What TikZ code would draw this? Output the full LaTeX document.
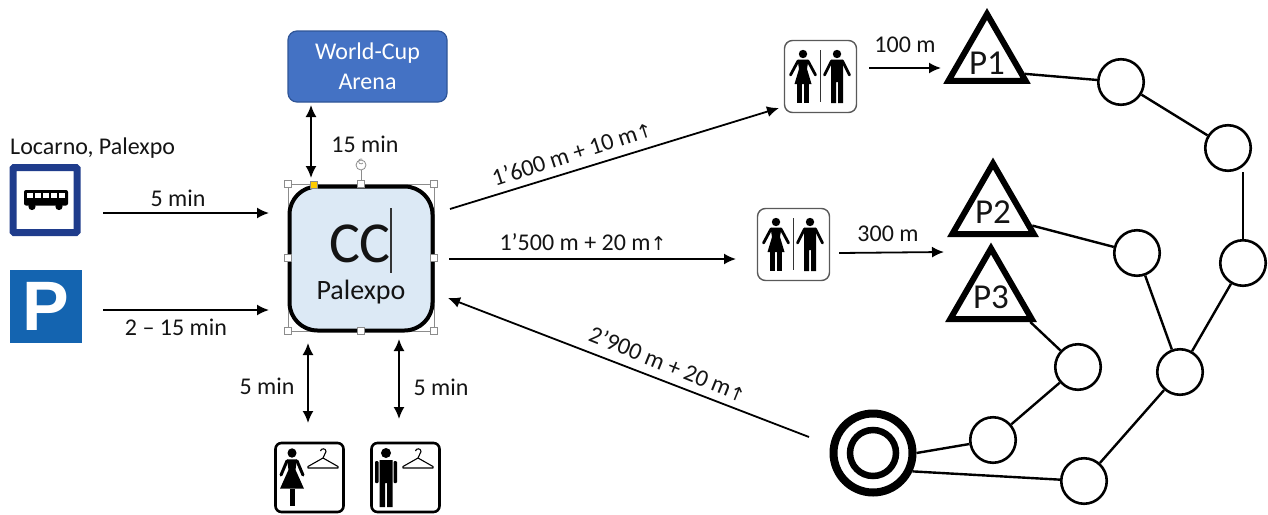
\documentclass[tikz,border=0pt]{standalone}
\usepackage{fontspec}
\setmainfont{Carlito}
\newfontfamily\arrowfont{DejaVu Sans}
\newfontfamily\signfont{Liberation Sans}[BoldFont={Liberation Sans Bold}]
\usetikzlibrary{arrows.meta,shapes.geometric}
\definecolor{txt}{HTML}{141414}
\definecolor{bsign}{HTML}{1F3C8C}
\definecolor{psign}{HTML}{1464B0}
\definecolor{arena}{HTML}{4472C4}
\definecolor{arenaedge}{HTML}{2F5597}
\definecolor{ccfill}{HTML}{DCE9F5}
\definecolor{handle}{HTML}{8C8C8C}
\tikzset{
  lab/.style={font=\fontsize{24}{28}\selectfont,text=txt,inner sep=0pt},
  conn/.style={line width=1.8pt,-{Latex[length=12pt,width=11pt]},black},
  dconn/.style={line width=1.8pt,{Latex[length=12pt,width=11pt]}-{Latex[length=12pt,width=11pt]},black},
  edge/.style={line width=2.4pt,black},
  stop/.style={circle,draw=black,line width=2.6pt,fill=white,minimum size=45.5pt,inner sep=0pt},
  tri/.style={regular polygon,regular polygon sides=3,draw=black,line width=6pt,fill=white,inner sep=0pt,font=\fontsize{35}{38}\selectfont,text=txt},
  wcbox/.style={draw=gray!70!black,line width=1.4pt,rounded corners=8pt,fill=white,minimum size=72pt,inner sep=0pt},
  clbox/.style={draw=black,line width=2.6pt,rounded corners=6pt,fill=white,minimum width=68pt,minimum height=69pt,inner sep=0pt},
  hnd/.style={draw=handle,line width=0.8pt,fill=white,minimum size=7.5pt,inner sep=0pt},
}
\newcommand{\upmark}{{\arrowfont\fontsize{19}{19}\selectfont↑}}
\newcommand{\trilabel}[2]{\smash{\makebox[0pt]{\raisebox{#1}{#2}}}}
\newcommand{\womanfig}[2]{\begin{scope}[shift={(#1,#2)}]
  \fill (0,0) circle (4.2);
  \fill (-5.5,5.5) -- (5.5,5.5) -- (4,15) -- (8.5,30) -- (-8.5,30) -- (-4,15) -- cycle;
  \draw[line width=2.8pt,line cap=round] (-5,7) -- (-12.5,21);
  \draw[line width=2.8pt,line cap=round] (5,7) -- (12.5,21);
  \fill (-6,30) rectangle (-1.4,49);
  \fill (1.4,30) rectangle (6,49);
\end{scope}}
\newcommand{\manfig}[2]{\begin{scope}[shift={(#1,#2)}]
  \fill (0,0) circle (4.2);
  \fill (-6,5.5) -- (6,5.5) -- (6,28) -- (6,49) -- (1,49) -- (1,28) -- (-1,28) -- (-1,49) -- (-6,49) -- cycle;
  \draw[line width=2.8pt,line cap=round] (-5.5,7) -- (-12.5,21);
  \draw[line width=2.8pt,line cap=round] (5.5,7) -- (12.5,21);
\end{scope}}
\newcommand{\hangerfig}[2]{\begin{scope}[shift={(#1,#2)},line width=1.1pt]
  \draw (-2.5,-8) .. controls (-2,-11) and (3,-11) .. (3,-7.5) .. controls (3,-4.5) and (0,-4) .. (0,-1);
  \draw[line join=round] (0,-1) -- (15,7.5) -- (15,9) -- (-15,9) -- (-15,7.5) -- cycle;
\end{scope}}
\begin{document}
\begin{tikzpicture}[x=1pt,y=-1pt]
\useasboundingbox (0,0) rectangle (1268,514);
% left column
\node[lab,anchor=west] (loc) at (10,148) {Locarno, Palexpo};
\node[draw=bsign,line width=7pt,fill=white,minimum width=64pt,minimum height=65pt,inner sep=0pt,rounded corners=1pt] (bus) at (45,200) {};
\begin{scope}
  \fill[rounded corners=2pt] (24,190) rectangle (68,205.5);
  \foreach \x in {26.5,34.5,42.5,50.5,58.5}{\fill[white] (\x,192.5) rectangle +(6,5.5);}
  \fill (32,206.5) circle (3.6);
  \fill (59,206.5) circle (3.6);
\end{scope}
\node[fill=psign,minimum width=72pt,minimum height=73pt,inner sep=0pt,text=white,font=\signfont\bfseries\fontsize{70}{70}\selectfont] (park) at (46,306) {P};
% World-Cup
\node[draw=arenaedge,line width=1.2pt,fill=arena,rounded corners=9pt,minimum width=159pt,minimum height=71pt,text=white,align=center,font=\fontsize{24}{30}\selectfont,inner sep=0pt] (wc) at (367.5,66.5) {World-Cup\\Arena};
% CC box
\draw[handle,line width=0.9pt] (288,184) rectangle (434,331);
\node[draw=black,line width=4pt,fill=ccfill,rounded corners=28pt,minimum width=143pt,minimum height=144pt,inner sep=0pt] (cc) at (361,258.5) {};
\node[inner sep=0pt,text=txt,font=\fontsize{58}{58}\selectfont] (cct) at (360,244) {CC};
\coordinate (bara) at (391,208);
\coordinate (barb) at (391,273);
\draw[line width=1.2pt,black!80] (bara) -- (barb);
\node[lab,font=\fontsize{28}{32}\selectfont] (pal) at (361,292) {Palexpo};
\node[circle,draw=handle,line width=0.8pt,fill=white,minimum size=10pt,inner sep=0pt] (rot) at (361,165) {};
\draw[handle,line width=0.7pt] (rot.south) -- (361,184);
\draw[handle,line width=0.7pt] (363,163) arc (40:300:2.5);
\foreach \p/\n in {288/184,361/184,434/184,288/258,434/258,288/331,361/331,434/331}{\node[hnd] at (\p,\n) {};}
\node[hnd,fill=orange!40!yellow] (yel) at (314,185) {};
% clothes icons
\node[clbox] (wa) at (309.5,477.5) {};
\node[clbox] (ma) at (405.5,477.5) {};
\begin{scope}[shift={(292,453)},yscale=1.05]
  \fill (0,0) circle (4.5);
  \fill (-5,6) -- (5,6) -- (3.5,16) -- (12,34) -- (-12,34) -- (-3.5,16) -- cycle;
  \draw[line width=3pt,line cap=round] (-5,7.5) -- (-11,21);
  \draw[line width=3pt,line cap=round] (5,7.5) -- (11,21);
  \fill (-2.5,34) rectangle (2.5,50);
\end{scope}
\begin{scope}[shift={(386,453)}]
  \fill (0,0) circle (5);
  \fill (-6.5,7) -- (6.5,7) -- (6.5,54) -- (1,54) -- (1,30) -- (-1,30) -- (-1,54) -- (-6.5,54) -- cycle;
  \fill[rounded corners=1pt] (-11,8) rectangle (-7.5,30);
  \fill[rounded corners=1pt] (7.5,8) rectangle (11,30);
\end{scope}
\hangerfig{323}{459}
\hangerfig{418}{459}
% restrooms
\node[wcbox] (wc1) at (820.5,76.5) {};
\womanfig{803}{54}
\manfig{837}{54}
\draw[line width=1pt,black!80] (820,50) -- (820,102);
\node[wcbox] (wc2) at (793.5,244.5) {};
\womanfig{776}{222}
\manfig{810}{222}
\draw[line width=1pt,black!80] (793,218) -- (793,270);
% stops
\node[stop] (c1) at (1121,82) {};
\node[stop] (c2) at (1228,148) {};
\node[stop] (c3) at (1243,263) {};
\node[stop] (c4) at (1137,253) {};
\node[stop] (c5) at (1180,372) {};
\node[stop] (c6) at (1078,367) {};
\node[stop] (c7) at (993,440) {};
\node[stop] (c8) at (1084,481) {};
\node[circle,draw=black,line width=8pt,fill=white,minimum size=79pt,inner sep=0pt] (goal) at (873,453) {};
\node[circle,draw=black,line width=6.5pt,fill=white,minimum size=46pt,inner sep=0pt] (goali) at (873,453) {};
\node[tri,minimum size=89pt] (p1) at (987,58.5) {\trilabel{-15.5pt}{P1}};
\node[tri,minimum size=94pt] (p2) at (993,210.5) {\trilabel{-12.5pt}{P2}};
\node[tri,minimum size=94pt] (p3) at (991,295.5) {\trilabel{-12.5pt}{P3}};
\draw[edge] (p1.-22) -- (c1);
\draw[edge] (c1) -- (c2);
\draw[edge] (c3.north) -- (c3.north |- c2.south);
\draw[edge] (c3) -- (c5);
\draw[edge] (p2.-21) -- (c4);
\draw[edge] (c4) -- (c5);
\draw[edge] (c5) -- (c8);
\draw[edge] (p3.-34) -- (c6);
\draw[edge] (c6) -- (c7);
\draw[edge] (c7) -- (goal.0);
\draw[edge] (goal.-25) -- (c8);
% arrow ends
\coordinate (a1s) at (103,213); \coordinate (a1e) at (269,213);
\coordinate (a2s) at (103,310); \coordinate (a2e) at (269,310);
\coordinate (a3s) at (311,105); \coordinate (a3e) at (311,178);
\coordinate (a4s) at (308,343); \coordinate (a4e) at (308,423);
\coordinate (a5s) at (399,339); \coordinate (a5e) at (399,419);
\coordinate (a6s) at (450,209); \coordinate (a6e) at (779,108);
\coordinate (a7s) at (449,259); \coordinate (a7e) at (736,259);
\coordinate (a8s) at (809,437); \coordinate (a8e) at (448,298);
\coordinate (a9s) at (869,68); \coordinate (a9e) at (941,68);
\coordinate (a10s) at (839,253); \coordinate (a10e) at (944,252);
\draw[conn] (a1s) -- (a1e);
\draw[conn] (a2s) -- (a2e);
\draw[dconn] (a3s) -- (a3e);
\draw[dconn] (a4s) -- (a4e);
\draw[dconn] (a5s) -- (a5e);
\draw[conn] (a6s) -- (a6e);
\draw[conn] (a7s) -- (a7e);
\draw[conn] (a8s) -- (a8e);
\draw[conn] (a9s) -- (a9e);
\draw[conn] (a10s) -- (a10e);
% labels
\node[lab] (l1) at (178,198) {5 min};
\node[lab] (l2) at (176,327) {2 – 15 min};
\node[lab] (l3) at (365,144) {15 min};
\node[lab] (l4) at (267,386) {5 min};
\node[lab] (l5) at (441,387) {5 min};
\node[lab,rotate=18] (l6) at (572,153) {1’600 m + 10 m\upmark};
\node[lab] (l7) at (583,242) {1’500 m + 20 m\upmark};
\node[lab,rotate=-22] (l8) at (668,364) {2’900 m + 20 m\upmark};
\node[lab] (l9) at (905,45) {100 m};
\node[lab] (l10) at (888,234) {300 m};
\end{tikzpicture}
\end{document}
